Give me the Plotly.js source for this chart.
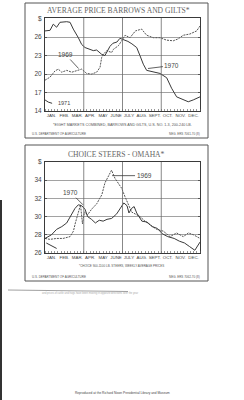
<!DOCTYPE html>
<html><head><meta charset="utf-8">
<script src="https://cdn.plot.ly/plotly-3.0.1.min.js"></script>
<style>html,body{margin:0;padding:0;background:#fff;}#chart{width:244px;height:400px;}</style>
</head><body><div id="chart"></div>
<script>
const months = ['JAN.','FEB.','MAR.','APR.','MAY','JUNE','JULY','AUG.','SEPT.','OCT.','NOV.','DEC.'];
const monthCenters = [0.5,1.5,2.5,3.5,4.5,5.5,6.5,7.5,8.5,9.5,10.5,11.5];
const gridMonths = [3,6,9];

// Barrows and gilts ($/cwt), position in months from Jan 1
const hog69M = [0,0.39,0.77,1.03,1.29,1.68,2.07,2.45,2.84,3.22,3.61,4.0,4.26,4.39,4.52,4.78,5.16,5.29,5.68,5.94,6.2,6.58,7.0,7.48,7.87,8.39,8.9,9.42,9.93,10.3,10.7,11.22,11.74,12];
const hog69P = [19.0,19.5,20.5,20.8,20.3,20.6,20.3,20.5,20.8,20.1,20.0,20.3,21.1,22.7,23.2,23.8,23.5,24.0,24.6,25.4,26.3,25.9,27.0,27.3,26.3,25.9,25.9,25.5,25.4,25.7,26.3,26.5,27.0,27.8];
const hog70M = [0,0.39,0.64,0.9,1.16,1.68,1.94,2.19,2.58,2.84,3.1,3.48,3.74,4.0,4.39,4.64,5.03,5.26,5.57,5.8,6.04,6.42,6.73,7.1,7.35,7.61,7.87,8.38,8.9,9.42,9.8,10.19,10.7,11.09,11.48,12];
const hog70P = [27.0,27.1,28.1,27.6,28.4,28.5,28.4,27.3,25.9,24.8,24.3,24.0,23.8,23.9,23.2,23.0,24.5,25.0,25.2,25.8,25.6,25.3,24.9,24.3,23.0,21.6,20.6,20.4,20.1,19.4,17.7,16.3,15.8,15.5,15.8,16.3];
const hog71M = [0,0.25,0.55];
const hog71P = [15.8,15.45,15.25];
const hogTicks = [14,17,20,23,26,29];
const hogTickText = ['14','17','20','23','26','$'];

// Choice steers - Omaha ($/cwt)
const st69M = [0,0.39,0.9,1.4,1.94,2.2,2.35,2.58,2.75,2.9,3.05,3.3,3.6,4.0,4.4,4.64,4.9,5.03,5.15,5.42,5.68,5.94,6.19,6.45,6.71,7.1,7.35,7.74,8.13,8.64,9.16,9.68,10.19,10.7,11.1,11.5,12];
const st69P = [27.6,27.5,27.6,27.6,27.8,28.4,29.3,30.4,31.3,29.2,30.5,30.2,30.8,31.4,32.4,33.7,34.4,34.8,35.1,34.2,33.6,33.1,32.2,31.3,30.5,30.2,30.0,29.5,29.1,28.6,28.4,27.8,28.2,27.8,28.2,28.0,27.6];
const st70M = [0,0.5,0.9,1.3,1.68,2.07,2.32,2.58,2.84,3.1,3.3,3.6,3.9,4.2,4.5,4.8,5.16,5.55,5.9,6.1,6.35,6.5,6.7,6.9,7.1,7.5,7.9,8.3,8.7,9.1,9.5,10.0,10.4,10.8,11.2,11.6,12];
const st70P = [27.6,28.0,28.6,28.9,29.3,30.2,30.9,31.3,31.2,30.8,30.0,29.7,29.3,29.6,29.5,29.7,29.8,30.3,31.0,31.5,31.2,30.4,30.9,31.1,30.4,29.5,29.4,28.9,28.7,28.1,27.8,27.6,27.3,27.1,26.7,26.3,27.2];
const st71M = [0.1,0.5,0.9];
const st71P = [27.1,26.8,26.5];
const stTicks = [26,28,30,32,34,36];
const stTickText = ['26','28','30','32','34','$'];

const W = 244, H = 400;
const px = v => v / W, py = v => 1 - v / H;
const ink = '#3a3a3a';
const solid = {color: ink, width: 1};
const dashed = {color: '#555', width: 1, dash: '2px,1px'};

const traces = [
  {x: hog69M, y: hog69P, xaxis: 'x', yaxis: 'y', mode: 'lines', line: dashed},
  {x: hog70M, y: hog70P, xaxis: 'x', yaxis: 'y', mode: 'lines', line: solid},
  {x: hog71M, y: hog71P, xaxis: 'x', yaxis: 'y', mode: 'lines', line: solid},
  {x: st69M, y: st69P, xaxis: 'x2', yaxis: 'y2', mode: 'lines', line: dashed},
  {x: st70M, y: st70P, xaxis: 'x2', yaxis: 'y2', mode: 'lines', line: solid},
  {x: st71M, y: st71P, xaxis: 'x2', yaxis: 'y2', mode: 'lines', line: solid}
];

const xBase = (anchor) => ({
  domain: [px(45), px(200)], range: [0, 12], anchor: anchor,
  tickmode: 'array', tickvals: monthCenters, ticktext: months, tickangle: 0,
  tickfont: {family: 'Liberation Sans', size: 4.4, color: '#444'},
  ticks: '', showgrid: false, zeroline: false,
  showline: true, mirror: true, linecolor: ink, linewidth: 1,
  minor: {tickmode: 'linear', tick0: 0, dtick: 0.25, ticks: 'inside', ticklen: 2, tickcolor: '#555', tickwidth: 0.6, showgrid: false}
});
const yBase = (dom, rng, tv, tt, anchor) => ({
  domain: dom, range: rng, anchor: anchor,
  tickmode: 'array', tickvals: tv, ticktext: tt,
  tickfont: {family: 'Liberation Sans', size: 6.5, color: '#444'},
  ticks: 'inside', ticklen: 2, tickcolor: '#555', mirror: 'ticks',
  showgrid: true, gridcolor: '#7a7a7a', gridwidth: 0.7, zeroline: false,
  showline: true, linecolor: ink, linewidth: 1, ticklabelstandoff: 1
});

const shapes = [];
gridMonths.forEach(m => {
  shapes.push({type: 'line', xref: 'x', yref: 'y domain', x0: m, x1: m, y0: 0, y1: 1, line: {color: '#6a6a6a', width: 0.8}});
  shapes.push({type: 'line', xref: 'x2', yref: 'y2 domain', x0: m, x1: m, y0: 0, y1: 1, line: {color: '#6a6a6a', width: 0.8}});
});
// frames of the two printed panels
shapes.push({type: 'rect', xref: 'paper', yref: 'paper', x0: px(25), x1: px(208), y0: py(138), y1: py(3), line: {color: '#555', width: 1}});
shapes.push({type: 'rect', xref: 'paper', yref: 'paper', x0: px(25), x1: px(208), y0: py(281), y1: py(145), line: {color: '#555', width: 1}});
// scan artefacts
shapes.push({type: 'line', xref: 'paper', yref: 'paper', x0: px(1), x1: px(1), y0: py(400), y1: py(200), line: {color: '#333', width: 2}});
shapes.push({type: 'line', xref: 'paper', yref: 'paper', x0: px(8), x1: px(128), y0: py(290), y1: py(291.5), line: {color: '#888', width: 0.8}});

const txt = (x, y, text, size, opts) => Object.assign({
  xref: 'paper', yref: 'paper', x: px(x), y: py(y), text: text, showarrow: false,
  font: {family: 'Liberation Sans', size: size, color: '#555'}, xanchor: 'center', yanchor: 'middle'
}, opts || {});

const annotations = [
  txt(118, 11, 'AVERAGE PRICE BARROWS AND GILTS*', 7.6, {font: {family: 'Liberation Serif', size: 7.6, color: '#666'}}),
  txt(116, 154, 'CHOICE STEERS - OMAHA*', 7.6, {font: {family: 'Liberation Serif', size: 7.6, color: '#666'}}),
  txt(123, 125, '*EIGHT MARKETS COMBINED, BARROWS AND GILTS, U.S. NO. 1-3, 200-240 LB.', 3.7),
  txt(121, 266, '*CHOICE 900-1100 LB. STEERS, WEEKLY AVERAGE PRICES', 3),
  txt(30, 134, 'U.S. DEPARTMENT OF AGRICULTURE', 3, {xanchor: 'left'}),
  txt(202, 134, 'NEG. ERS 7061-70 (8)', 3, {xanchor: 'right'}),
  txt(30, 277, 'U.S. DEPARTMENT OF AGRICULTURE', 3, {xanchor: 'left'}),
  txt(202, 277, 'NEG. ERS 7062-70 (8)', 3, {xanchor: 'right'}),
  txt(40, 293, 'and prices of cattle and hogs have been moving in opposite directions over the year', 2.6, {xanchor: 'left', font: {family: 'Liberation Sans', size: 2.6, color: '#aaa'}}),
  txt(122, 393, 'Reproduced at the Richard Nixon Presidential Library and Museum', 3.2, {font: {family: 'Liberation Sans', size: 3.2, color: '#444'}}),
  // series labels
  {xref: 'x', yref: 'y', x: 2.6, y: 20.9, text: '1969', showarrow: true, arrowhead: 0, arrowwidth: 0.8, arrowcolor: ink, ax: -13, ay: -14, standoff: 0,
   font: {family: 'Liberation Sans', size: 6.5, color: '#444'}},
  {xref: 'x', yref: 'y', x: 7.97, y: 20.9, text: '1970', showarrow: true, arrowhead: 0, arrowwidth: 0.8, arrowcolor: ink, ax: 24, ay: -3, standoff: 0,
   font: {family: 'Liberation Sans', size: 6.5, color: '#444'}},
  {xref: 'x', yref: 'y', x: 0.85, y: 15.25, text: '1971', showarrow: false, xanchor: 'left',
   font: {family: 'Liberation Sans', size: 5.5, color: '#444'}},
  {xref: 'x2', yref: 'y2', x: 2.94, y: 31.3, text: '1970', showarrow: true, arrowhead: 0, arrowwidth: 0.8, arrowcolor: ink, ax: -12, ay: -12, standoff: 0,
   font: {family: 'Liberation Sans', size: 6.5, color: '#444'}},
  {xref: 'x2', yref: 'y2', x: 5.19, y: 34.5, text: '1969', showarrow: true, arrowhead: 0, arrowwidth: 0.8, arrowcolor: ink, ax: 32, ay: 0, standoff: 0,
   font: {family: 'Liberation Sans', size: 6.5, color: '#444'}}
];

const layout = {
  width: W, height: H, margin: {l: 0, r: 0, t: 0, b: 0},
  paper_bgcolor: '#fff', plot_bgcolor: '#fff', showlegend: false,
  xaxis: xBase('y'),
  yaxis: yBase([py(111), py(18)], [14, 29.1], hogTicks, hogTickText, 'x'),
  xaxis2: xBase('y2'),
  yaxis2: yBase([py(253), py(162)], [26, 36], stTicks, stTickText, 'x2'),
  shapes: shapes, annotations: annotations
};

Plotly.newPlot('chart', traces, layout, {staticPlot: true, displayModeBar: false});
</script></body></html>
